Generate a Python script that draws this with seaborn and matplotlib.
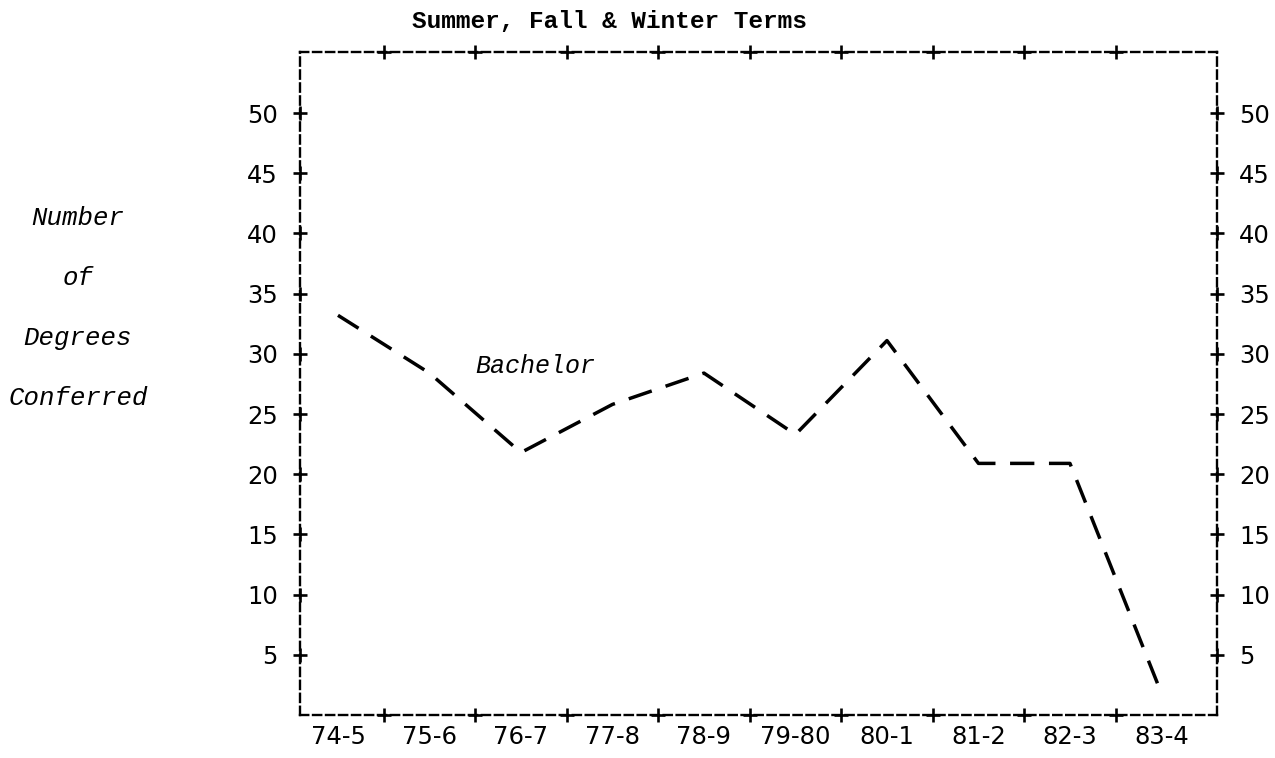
import numpy as np
import pandas as pd
import seaborn as sns
import matplotlib.pyplot as plt
from matplotlib.transforms import blended_transform_factory

# --- Data ---
terms = ["74-5", "75-6", "76-7", "77-8", "78-9", "79-80", "80-1", "81-2", "82-3", "83-4"]
bachelor = [33.2, 28.4, 21.8, 25.8, 28.4, 23.3, 31.1, 20.9, 20.9, 1.8]
y_ticks = [5, 10, 15, 20, 25, 30, 35, 40, 45, 50]
ylabel_lines = ["Number", "of", "Degrees", "Conferred"]
title = "Summer, Fall & Winter Terms"
series_label = "Bachelor"

df = pd.DataFrame({"pos": np.arange(len(terms)), "degrees": bachelor})

sns.set_style("white")
plt.rcParams["font.family"] = ["DejaVu Sans"]
plt.rcParams["text.color"] = "black"
plt.rcParams["xtick.color"] = "black"
plt.rcParams["ytick.color"] = "black"
mono = "Liberation Mono"

fig = plt.figure(figsize=(12.75, 7.58), dpi=100)
ax = fig.add_axes([0.2353, 0.0567, 0.7192, 0.8747])

# --- Line ---
sns.lineplot(data=df, x="pos", y="degrees", ax=ax, color="black",
             linewidth=2.5, linestyle=(0, (7, 4.2)))

ax.set_xlim(-0.415, 9.607)
ax.set_ylim(0, 55.07)

# --- Dashed frame ---
for side in ["left", "right", "top", "bottom"]:
    ax.spines[side].set_visible(True)
    ax.spines[side].set_color("black")
    ax.spines[side].set_linewidth(1.7)
    ax.spines[side].set_linestyle((0, (3.5, 2.0)))

# --- Ticks: labels only, "+" marks drawn on the frame ---
ax.set_xticks(df["pos"])
ax.set_xticklabels(terms)
ax.set_yticks(y_ticks)
ax.set_yticklabels([str(v) for v in y_ticks])
ax.tick_params(axis="x", length=0, pad=7, labelsize=17.5, colors="black")
ax.tick_params(axis="y", length=0, pad=16, labelsize=17.5, colors="black",
               left=False, right=False, labelleft=True, labelright=True)
ax.set_xlabel("")
ax.set_ylabel("")

bounds = np.arange(len(terms) - 1) + 0.5
tx = blended_transform_factory(ax.transData, ax.transAxes)
ty = blended_transform_factory(ax.transAxes, ax.transData)
mk = dict(marker="+", color="black", markersize=10, markeredgewidth=1.9,
          linestyle="none", clip_on=False)
for yy in [0, 1]:
    ax.plot(bounds, [yy] * len(bounds), transform=tx, **mk)
for xx in [0, 1]:
    ax.plot([xx] * len(y_ticks), y_ticks, transform=ty, **mk)

# --- Texts ---
ax.text(1.5, 29, series_label, fontsize=18, style="italic", family=mono,
        va="center", ha="left")
fig.text(412 / 1275, 1 - 22 / 758, title, fontsize=17.6, family=mono,
         fontweight="bold", ha="left", va="center")
for i, line in enumerate(ylabel_lines):
    fig.text(78 / 1275, 1 - (218 + 60 * i) / 758, line, fontsize=18.5,
             family=mono, style="italic", ha="center", va="center")

fig.savefig("out.png", dpi=100)
